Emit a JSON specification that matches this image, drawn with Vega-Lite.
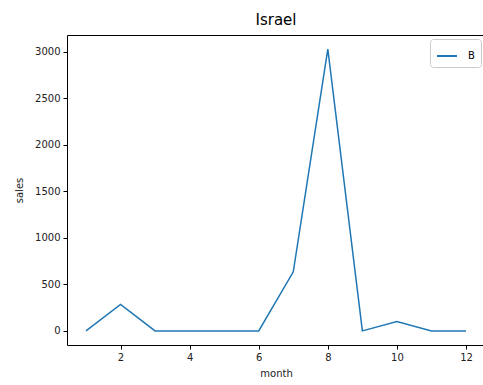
{
  "$schema": "https://vega.github.io/schema/vega-lite/v6.json",
  "autosize": {"type": "none"},
  "padding": {"left": 67, "top": 35, "right": 0, "bottom": 40},
  "width": 418,
  "height": 310,
  "title": {"text": "Israel", "font": "DejaVu Sans", "fontSize": 15, "fontWeight": "normal", "color": "black", "offset": 7},
  "config": {
    "view": {"stroke": "black", "strokeWidth": 1},
    "font": "DejaVu Sans",
    "axis": {"grid": false, "domain": false, "tickColor": "black", "tickSize": 4, "labelFont": "DejaVu Sans", "labelFontSize": 10, "labelColor": "#222", "titleFont": "DejaVu Sans", "titleFontSize": 10, "titleFontWeight": "normal", "titleColor": "#222", "labelPadding": 3}
  },
  "data": {"values": [
    {"month": 1, "sales": 0, "series": "B"},
    {"month": 2, "sales": 285, "series": "B"},
    {"month": 3, "sales": 0, "series": "B"},
    {"month": 4, "sales": 0, "series": "B"},
    {"month": 5, "sales": 0, "series": "B"},
    {"month": 6, "sales": 0, "series": "B"},
    {"month": 7, "sales": 635, "series": "B"},
    {"month": 8, "sales": 3030, "series": "B"},
    {"month": 9, "sales": 0, "series": "B"},
    {"month": 10, "sales": 100, "series": "B"},
    {"month": 11, "sales": 0, "series": "B"},
    {"month": 12, "sales": 0, "series": "B"}
  ]},
  "mark": {"type": "line", "strokeWidth": 1.5, "clip": true},
  "encoding": {
    "x": {"field": "month", "type": "quantitative", "scale": {"domain": [0.45, 12.55], "nice": false, "zero": false},
      "axis": {"values": [2, 4, 6, 8, 10, 12], "format": "d", "title": "month", "titlePadding": 6}},
    "y": {"field": "sales", "type": "quantitative", "scale": {"domain": [-151.5, 3181.5], "nice": false, "zero": false},
      "axis": {"values": [0, 500, 1000, 1500, 2000, 2500, 3000], "format": "d", "title": "sales", "titlePadding": 10}},
    "color": {"field": "series", "type": "nominal", "scale": {"range": ["#1f77b4"]},
      "legend": {"title": null, "orient": "top-right", "symbolType": "stroke", "symbolStrokeWidth": 2, "symbolSize": 400, "labelFont": "DejaVu Sans", "labelFontSize": 10, "labelOffset": 10, "strokeColor": "#ccc", "cornerRadius": 3, "padding": 6, "offset": 4, "fillColor": "white"}}
  }
}
